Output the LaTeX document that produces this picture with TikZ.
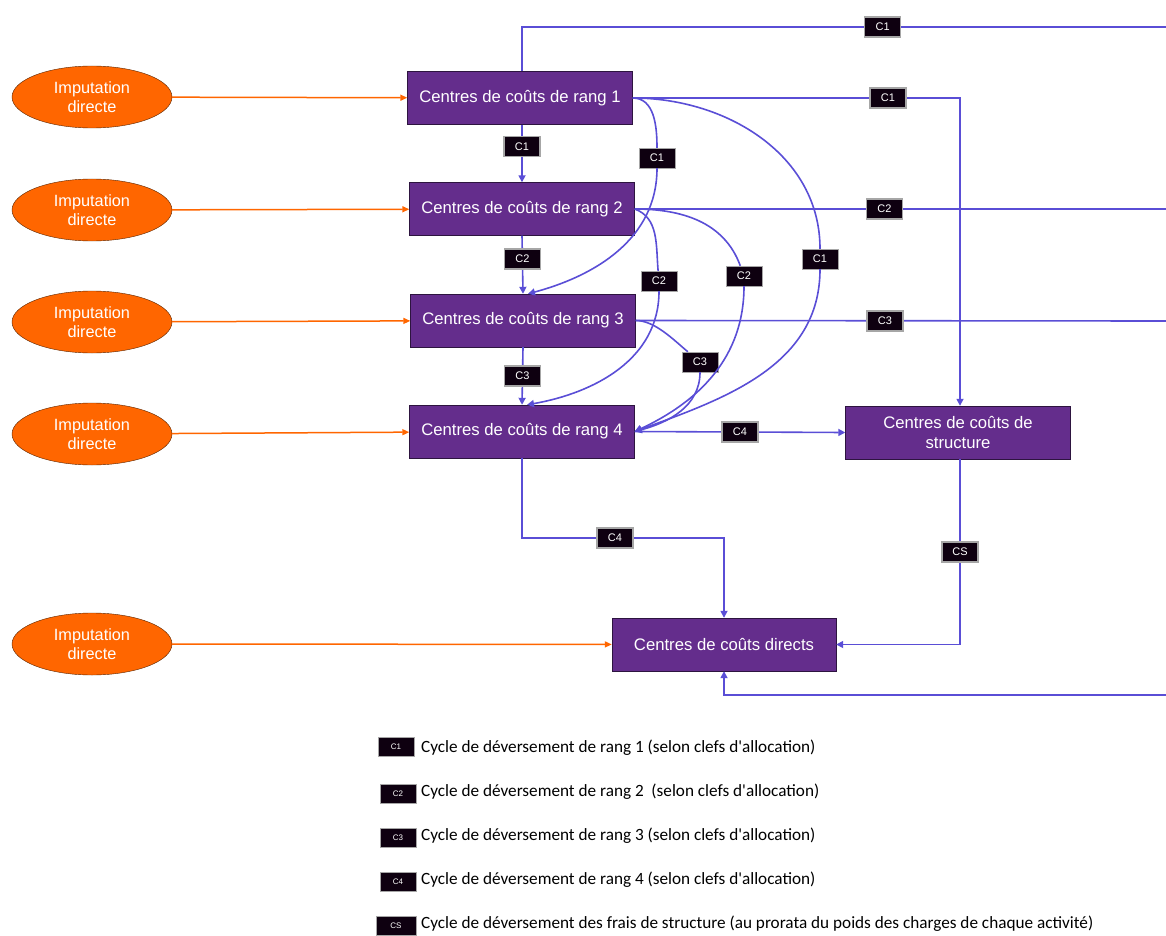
\documentclass[tikz,border=0pt]{standalone}
\usepackage{fontspec}
\setmainfont{Liberation Sans}
\newfontfamily\legendfont{Carlito}
\usetikzlibrary{positioning, arrows.meta, shapes.geometric}
\definecolor{LinkColor}{RGB}{90,78,214}
\definecolor{CentreColor}{RGB}{100,45,140}
\definecolor{InputColor}{RGB}{255,102,0}
\definecolor{TagColor}{RGB}{14,0,16}
\tikzstyle{flow} = [line width=1.6pt, LinkColor, -{Triangle[length=7pt,width=7pt]}]
\tikzstyle{plain} = [line width=1.6pt, LinkColor]
\tikzstyle{feed} = [line width=1.5pt, InputColor, -{Triangle[length=7pt,width=6pt]}]
\tikzstyle{centre} = [rectangle, draw=CentreColor!45!black, fill=CentreColor, text=white, minimum width=225pt, minimum height=53pt, align=center, font=\fontsize{16.7}{19.5}\selectfont]
\tikzstyle{source} = [ellipse, draw=InputColor!35!black, fill=InputColor, text=white, minimum width=160pt, minimum height=62pt, inner sep=0pt, align=center, font=\fontsize{16.3}{19.5}\selectfont]
\tikzstyle{tag} = [rectangle, draw=gray!70, fill=TagColor, text=white, minimum width=36pt, minimum height=20pt, inner sep=0pt, font=\fontsize{11}{12}\selectfont]
\tikzstyle{keytag} = [tag, minimum width=36pt, minimum height=19pt, font=\fontsize{8}{9}\selectfont]
\tikzstyle{keytext} = [anchor=west, inner sep=0pt, font=\legendfont\fontsize{17.2}{20}\selectfont]

\begin{document}
\begin{tikzpicture}[x=1pt, y=-1pt]
      \useasboundingbox (0,0) rectangle (1166,936);

      % Direct imputations
      \node[source] (src1) at (92,97) {Imputation\\directe};
      \node[source] (src2) at (92,210) {Imputation\\directe};
      \node[source] (src3) at (92,322) {Imputation\\directe};
      \node[source] (src4) at (92,434) {Imputation\\directe};
      \node[source] (src5) at (92,644) {Imputation\\directe};

      % Cost centres
      \node[centre] (rang1) at (520,98) {Centres de coûts de rang 1};
      \node[centre] (rang2) at (522,209) {Centres de coûts de rang 2};
      \node[centre] (rang3) at (523,320.5) {Centres de coûts de rang 3};
      \node[centre] (rang4) at (522,431.5) {Centres de coûts de rang 4};
      \node[centre] (struct) at (958,432.5) {Centres de coûts de\\structure};
      \node[centre, minimum width=224pt] (direct) at (724,644.5) {Centres de coûts directs};

      % Off-page ends
      \coordinate (out1) at (1166,27);
      \coordinate (out2) at (1166,209);
      \coordinate (out3) at (1166,321);
      \coordinate (in4) at (1166,695);

      % Orange inputs
      \draw[feed] (src1) -- (rang1);
      \draw[feed] (src2) -- (rang2);
      \draw[feed] (src3) -- (rang3);
      \draw[feed] (src4) -- (rang4);
      \draw[feed] (src5) -- (direct);

      % Straight transfers
      \draw[plain] ([xshift=2pt]rang1.north) |- node[tag, pos=0.78] {C1} (out1);
      \draw[flow] (rang1.east) -| node[tag, pos=0.39] {C1} ([xshift=2pt]struct.north);
      \draw[flow] ([xshift=2pt]rang1.south) -- node[tag, pos=0.38] {C1} (rang2.north);
      \draw[flow] (rang2.south) -- node[tag, pos=0.4] {C2} (rang3.north);
      \draw[flow] (rang3.south) -- node[tag, pos=0.5] {C3} (rang4.north);
      \draw[plain] (rang2.east) -- node[tag, pos=0.47] {C2} (out2);
      \draw[plain] (rang3.east) -- node[tag, pos=0.47] {C3} (out3);
      \draw[flow] (rang4.east) -- node[tag] {C4} (struct.west);
      \draw[flow] (rang4.south) |- node[tag, pos=0.73] {C4} (direct.north |- 0,538) -- (direct.north);
      \draw[flow] ([xshift=2pt]struct.south) |- node[tag, pos=0.25] {CS} (direct.east);
      \draw[flow] (in4) -| (direct.south);

      % Curved transfers
      \node[tag] (t1a) at (657,158) {C1};
      \node[tag] (t1b) at (820,259) {C1};
      \node[tag] (t2a) at (659,281) {C2};
      \node[tag] (t2b) at (744,276) {C2};
      \node[tag] (t3) at (700,362) {C3};
      \draw[flow] (rang1.east) to[out=0, in=90] (t1a) to[out=-90, in=15] ([xshift=5pt]rang3.north);
      \draw[flow] (rang1.east) to[out=0, in=90] (t1b) to[out=-90, in=20] (rang4.east);
      \draw[flow] (rang2.east) to[out=-20, in=95] (t2a) to[out=-90, in=10] ([xshift=5pt]rang4.north);
      \draw[flow] (rang2.east) to[out=0, in=110] (t2b) to[out=-90, in=25] (rang4.east);
      \draw[flow] (rang3.east) to[out=0, in=140, looseness=0.8] (t3) to[out=-90, in=15] (rang4.east);

      % Legend
      \node[keytag] (k1) at (396,747) {C1};
      \node[keytag] (k2) at (398,793.5) {C2};
      \node[keytag] (k3) at (398,837.5) {C3};
      \node[keytag] (k4) at (398,881.5) {C4};
      \node[keytag, minimum width=40pt] (k5) at (396,926) {CS};
      \node[keytext] (d1) at (421,748) {Cycle de déversement de rang 1 (selon clefs d'allocation)};
      \node[keytext] (d2) at (421,792) {Cycle de déversement de rang 2~ (selon clefs d'allocation)};
      \node[keytext] (d3) at (421,836) {Cycle de déversement de rang 3 (selon clefs d'allocation)};
      \node[keytext] (d4) at (421,880) {Cycle de déversement de rang 4 (selon clefs d'allocation)};
      \node[keytext] (d5) at (421,924) {Cycle de déversement des frais de structure (au prorata du poids des charges de chaque activité)};
    \end{tikzpicture}
\end{document}
